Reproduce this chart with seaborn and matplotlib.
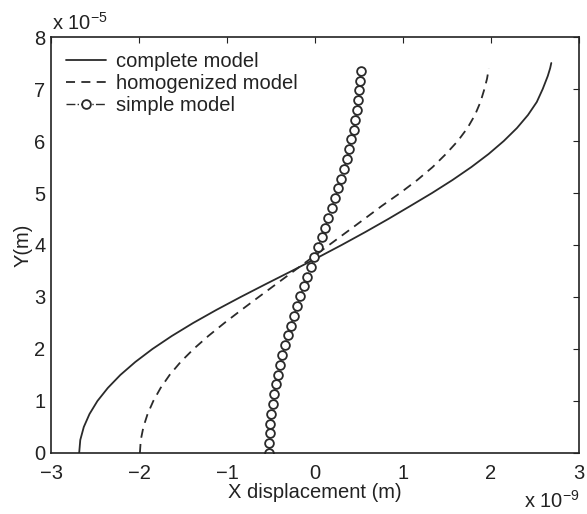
import matplotlib
matplotlib.use("Agg")
import matplotlib.pyplot as plt
import seaborn as sns
import pandas as pd

# ---- data (x in units of 1e-9 m, y in units of 1e-5 m) ----
complete_y = [0.0, 0.25, 0.5, 0.75, 1.0, 1.25, 1.5, 1.75, 2.0, 2.25, 2.5, 2.75,
              3.0, 3.25, 3.5, 3.75, 4.0, 4.25, 4.5, 4.75, 5.0, 5.25, 5.5, 5.75,
              6.0, 6.25, 6.5, 6.75, 7.0, 7.25, 7.4, 7.5]
complete_x = [-2.68, -2.6675, -2.6275, -2.5625, -2.4725, -2.355, -2.2125, -2.0425,
              -1.8475, -1.6275, -1.385, -1.1225, -0.845, -0.5575, -0.265, 0.0225,
              0.3025, 0.5725, 0.8325, 1.0825, 1.33, 1.5625, 1.7775, 1.9725, 2.145,
              2.295, 2.42, 2.52, 2.5875, 2.645, 2.672, 2.685]

homog_y = [0.0, 0.25, 0.5, 0.75, 1.0, 1.25, 1.5, 1.75, 2.0, 2.25, 2.5, 2.75, 3.0, 3.25,
           3.5, 3.75, 4.0, 4.25, 4.5, 4.75, 5.0, 5.25, 5.5, 5.75, 6.0, 6.25, 6.5, 6.75,
           7.0, 7.2, 7.4]
homog_x = [-1.99, -1.98, -1.95, -1.9025, -1.8375, -1.755, -1.6525, -1.5275, -1.38,
           -1.2125, -1.03, -0.8375, -0.64, -0.44, -0.24, -0.04, 0.16, 0.36, 0.56,
           0.7575, 0.9675, 1.1625, 1.3375, 1.4875, 1.6225, 1.7325, 1.8175, 1.88,
           1.925, 1.955, 1.975]

simple_y = [0.000, 0.188, 0.377, 0.565, 0.754, 0.942, 1.131, 1.319, 1.508, 1.696,
            1.885, 2.073, 2.262, 2.450, 2.638, 2.827, 3.015, 3.204, 3.392, 3.581,
            3.769, 3.958, 4.146, 4.335, 4.523, 4.712, 4.900, 5.088, 5.277, 5.465,
            5.654, 5.842, 6.031, 6.219, 6.408, 6.596, 6.785, 6.973, 7.162, 7.350]
simple_x = [-0.520, -0.518, -0.514, -0.506, -0.495, -0.481, -0.464, -0.445, -0.422, -0.397,
            -0.370, -0.341, -0.309, -0.275, -0.240, -0.204, -0.166, -0.127, -0.087, -0.047,
            -0.007, 0.034, 0.074, 0.114, 0.153, 0.191, 0.228, 0.264, 0.298, 0.330,
            0.361, 0.389, 0.414, 0.438, 0.458, 0.476, 0.491, 0.503, 0.512, 0.517]

labels = ["complete model", "homogenized model", "simple model"]
x_ticks = [-3, -2, -1, 0, 1, 2, 3]
y_ticks = [0, 1, 2, 3, 4, 5, 6, 7, 8]

FS = 14.5
sns.set_theme(style="white")
plt.rcParams["font.family"] = ["Liberation Sans", "DejaVu Sans"]
plt.rcParams["mathtext.fontset"] = "custom"
plt.rcParams["mathtext.rm"] = "Liberation Sans"
plt.rcParams["mathtext.it"] = "Liberation Sans"

fig = plt.figure(figsize=(5.87, 5.14), dpi=100)
ax = fig.add_axes([0.0869, 0.1187, 0.8995, 0.8093])

col = "#2a2a2a"
txtcol = "#222222"
df_c = pd.DataFrame({"x": complete_x, "y": complete_y})
df_h = pd.DataFrame({"x": homog_x, "y": homog_y})
df_s = pd.DataFrame({"x": simple_x, "y": simple_y})

sns.lineplot(data=df_c, x="x", y="y", sort=False, estimator=None, ax=ax,
             color=col, linewidth=1.3, label=labels[0])
sns.lineplot(data=df_h, x="x", y="y", sort=False, estimator=None, ax=ax,
             color=col, linewidth=1.3, label=labels[1])
ax.lines[-1].set_dashes((5, 3.5))
sns.lineplot(data=df_s, x="x", y="y", sort=False, estimator=None, ax=ax,
             color=col, linewidth=1.0, label=labels[2])
ln = ax.lines[-1]
ln.set_linestyle("-.")
ln.set_marker("o")
ln.set_markersize(6.3)
ln.set_markerfacecolor("white")
ln.set_markeredgecolor(col)
ln.set_markeredgewidth(1.3)

ax.set_xlim(-3, 3)
ax.set_ylim(0, 8)
ax.set_xticks(x_ticks)
ax.set_yticks(y_ticks)
ax.set_xticklabels([str(t).replace("-", "\u2212") for t in x_ticks])
ax.set_yticklabels([str(t) for t in y_ticks])
ax.tick_params(direction="in", length=4, width=0.8, colors=txtcol,
               labelsize=FS, top=True, right=True, pad=4)
ax.tick_params(axis="x", pad=8)
for s in ax.spines.values():
    s.set_color(txtcol)
    s.set_linewidth(1.2)
    s.set_visible(True)

ax.set_xlabel("X displacement (m)", fontsize=FS, color=txtcol, labelpad=0)
ax.set_ylabel("Y(m)", fontsize=FS, color=txtcol, labelpad=1)

fig.text(0.088, 0.935, r"x 10$^{-5}$", fontsize=FS, color=txtcol,
         ha="left", va="bottom")
fig.text(0.892, 0.004, r"x 10$^{-9}$", fontsize=FS, color=txtcol,
         ha="left", va="bottom")

leg = ax.legend(loc="upper left", frameon=False, fontsize=FS, handlelength=2.0,
                handletextpad=0.5, labelspacing=0.15, borderaxespad=0.35,
                bbox_to_anchor=(0.0, 1.0))
for t in leg.get_texts():
    t.set_color(txtcol)

fig.savefig("out.png", dpi=100, facecolor="white")
